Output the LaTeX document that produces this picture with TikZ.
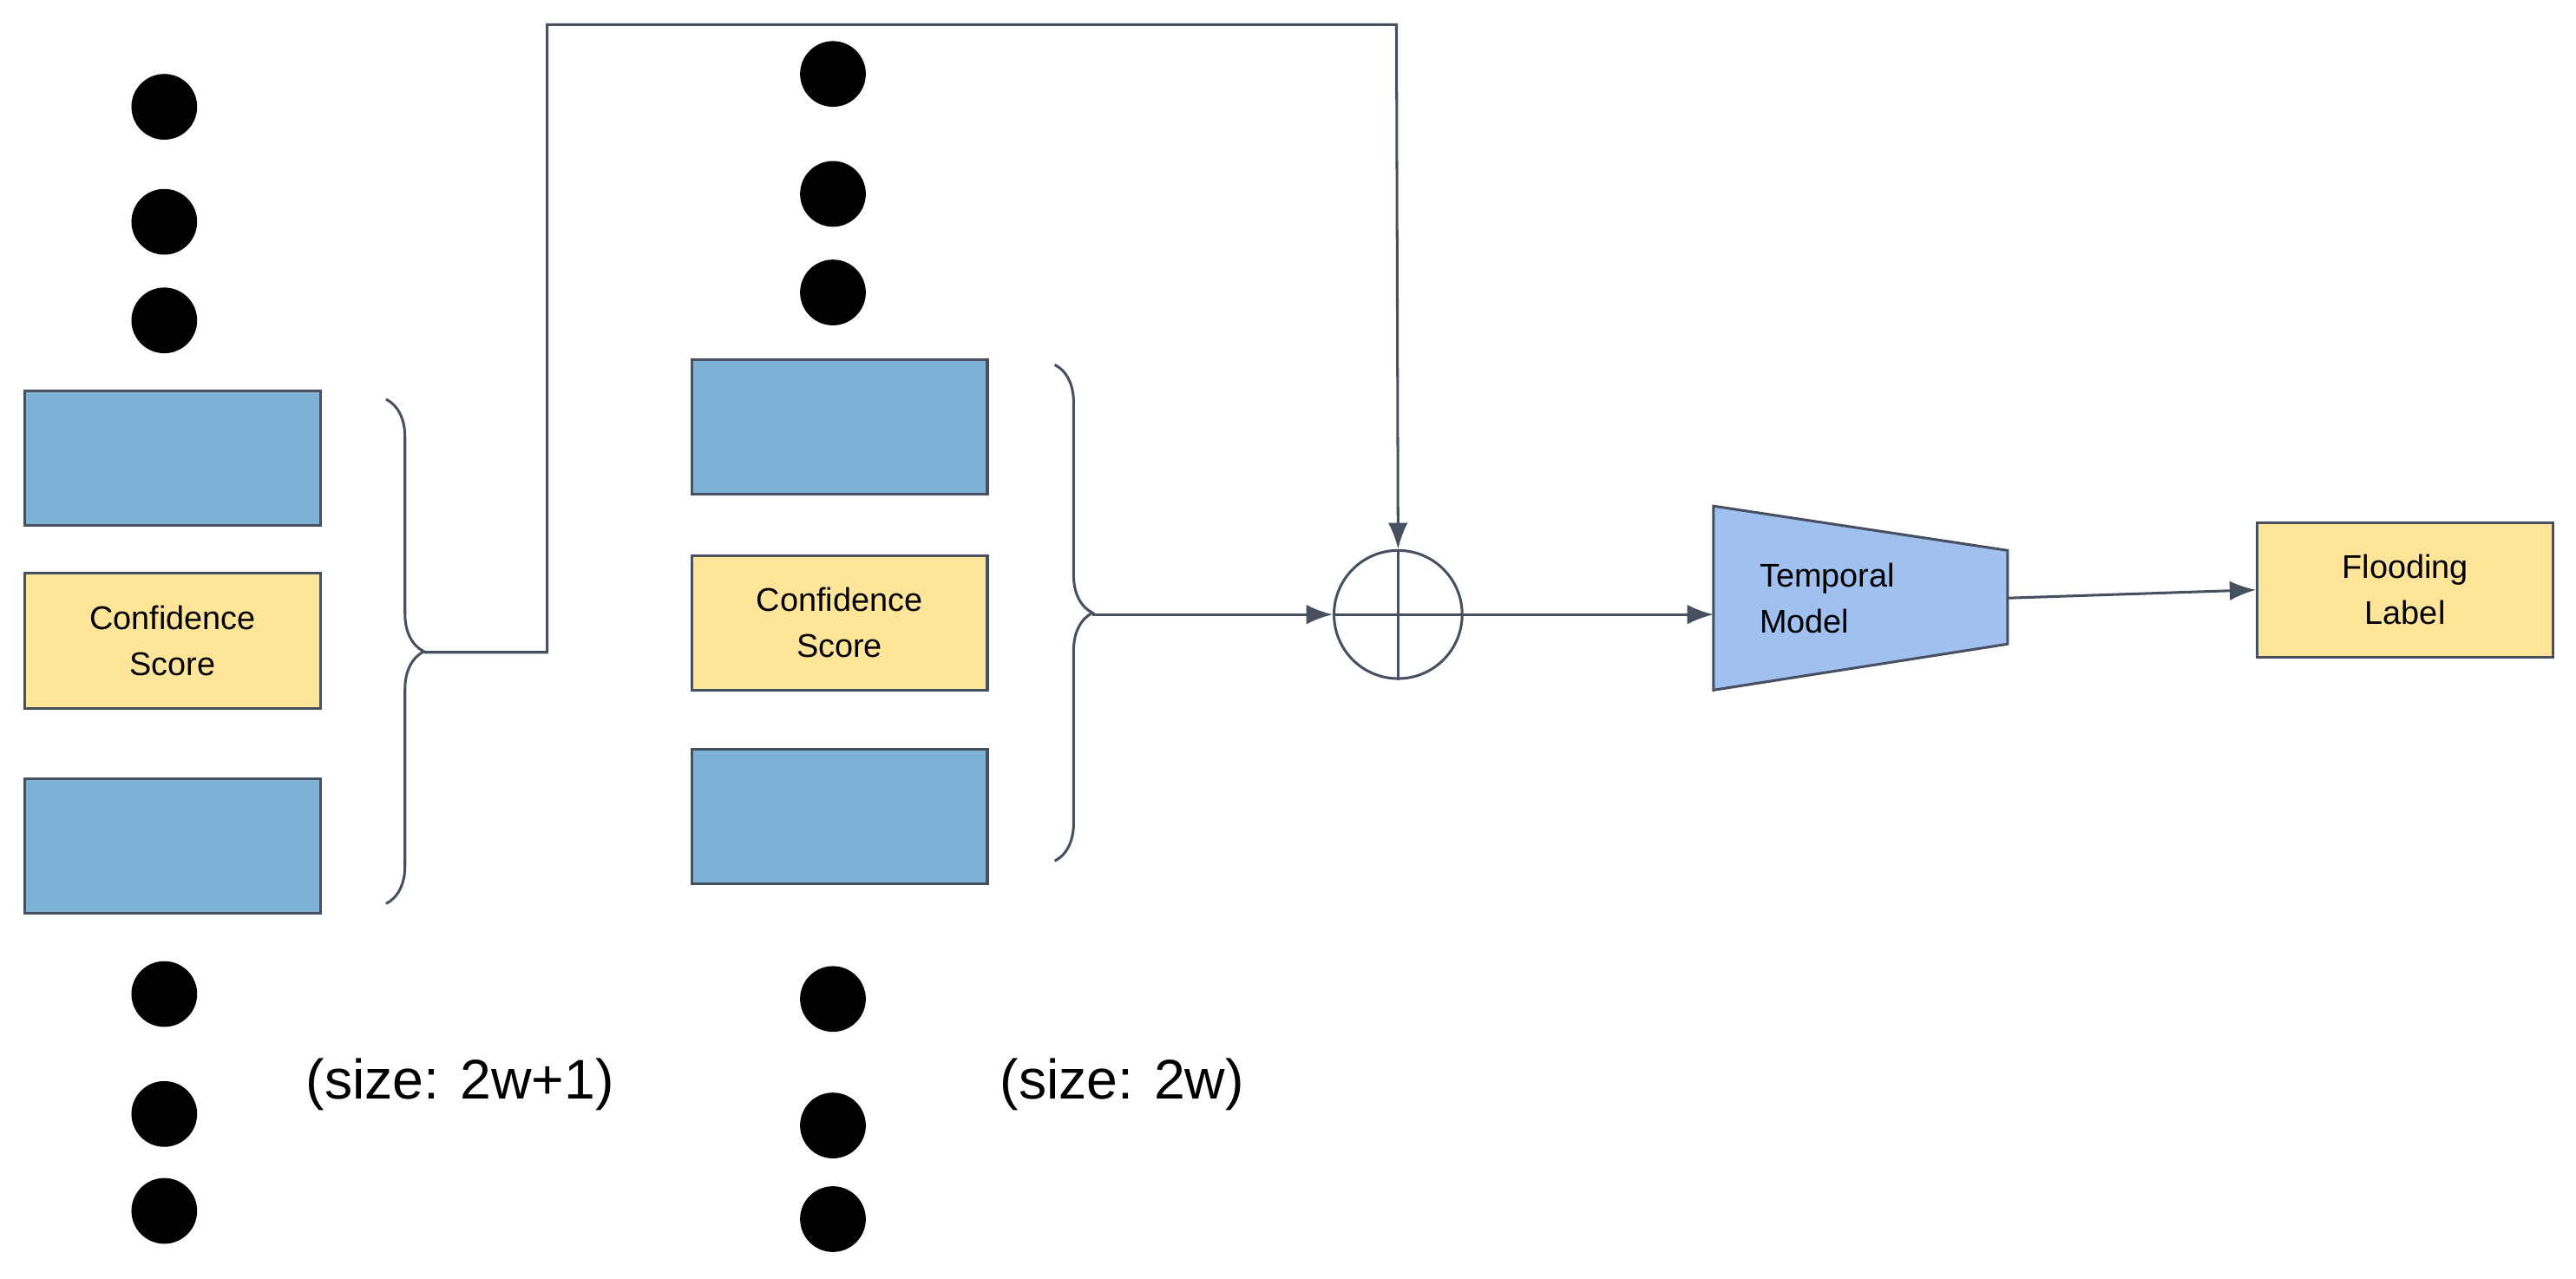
\documentclass[tikz,border=0pt]{standalone}
\usepackage{fontspec}
\setmainfont{Liberation Sans}
\usetikzlibrary{decorations.pathreplacing,arrows.meta}
\definecolor{bl}{RGB}{127,179,213}
\definecolor{ye}{RGB}{255,229,153}
\definecolor{tm}{RGB}{160,192,240}
\definecolor{ln}{RGB}{70,80,95}
\begin{document}
\begin{tikzpicture}[x=0.5pt,y=-0.5pt,
 dot/.style={circle,fill=black,minimum size=20pt,inner sep=0},
 box/.style={draw=ln,line width=0.8pt,minimum width=90pt,minimum height=41pt,inner sep=0,align=center,font=\fontsize{10}{12}\selectfont},
 br/.style={draw=ln,line width=0.8pt,decorate,decoration={brace,amplitude=11.5pt}},
 ar/.style={draw=ln,line width=0.8pt,-{Latex[length=8pt,width=6pt]}},
 big/.style={font=\fontsize{17}{20}\selectfont}]
\useasboundingbox (0,0) rectangle (1568,778);
\foreach \y [count=\i] in {65,135,195,605,678,737} \node[dot] (l\i) at (100,\y) {};
\foreach \y [count=\i] in {45,118,178,608,685,742} \node[dot] (m\i) at (507,\y) {};
\node[box,fill=bl] (lb1) at (105,279) {};
\node[box,fill=ye] (ly) at (105,390) {Confidence\\[2pt]Score};
\node[box,fill=bl] (lb2) at (105,515) {};
\node[box,fill=bl] (mb1) at (511,260) {};
\node[box,fill=ye] (my) at (511,379) {Confidence\\[2pt]Score};
\node[box,fill=bl] (mb2) at (511,497) {};
\draw[br] (235,243) -- (235,550);
\draw[br] (642,222) -- (642,524);
\coordinate (lt) at (258,397);
\coordinate (mt) at (665,374);
\node[circle,draw=ln,line width=0.8pt,minimum size=39pt,inner sep=0] (c) at (851,374) {};
\draw[ln,line width=0.8pt] (c.north) -- (c.south) (c.west) -- (c.east);
\draw[ar] (lt) -- (333,397) -- (333,15) -- (850,15) -- (c.north);
\draw[ar] (mt) -- (c.west);
\draw[draw=ln,fill=tm,line width=0.8pt] (1043,308) -- (1222,335) -- (1222,392) -- (1043,420) -- cycle;
\node[align=left,font=\fontsize{10}{12}\selectfont,anchor=west] (tmod) at (1064,364) {Temporal\\[2pt]Model};
\coordinate (tl) at (1043,374);
\coordinate (tr) at (1222,364);
\draw[ar] (c.east) -- (tl);
\node[box,fill=ye] (fl) at (1464,359) {Flooding\\[2pt]Label};
\draw[ar] (tr) -- (fl.west);
\node[big] (s1) at (280,660) {(size: 2w+1)};
\node[big] (s2) at (683,660) {(size: 2w)};
\end{tikzpicture}
\end{document}
